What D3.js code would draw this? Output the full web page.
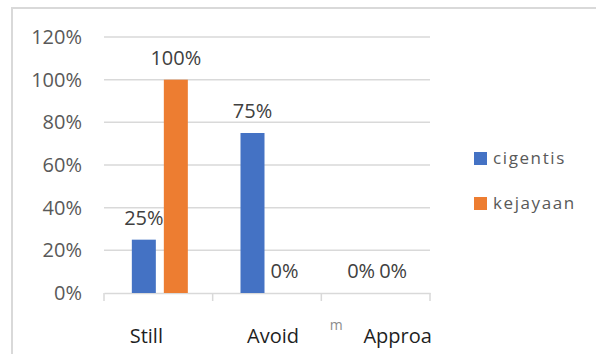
<!DOCTYPE html>
<html>
<head>
<meta charset="utf-8">
<script src="https://cdn.jsdelivr.net/npm/d3@7"></script>
<style>
  html, body { margin: 0; padding: 0; background: #fff; }
  svg { display: block; font-family: "Open Sans", "Noto Sans", sans-serif; }
</style>
</head>
<body>
<svg id="chart" width="596" height="354"></svg>
<script>
// Chart data
const categories = ["Still", "Avoid", "Approa"];
const seriesNames = ["cigentis", "kejayaan"];
const cigentis = [0.25, 0.75, 0];
const kejayaan = [1.00, 0, 0];
const yTicks = [0, 0.2, 0.4, 0.6, 0.8, 1.0, 1.2];
const categoryLabelShift = [-12, 6, 22];
const colors = ["#4472c4", "#ed7d31"];

const svg = d3.select("#chart");
const plot = { left: 104, right: 430, top: 37, bottom: 293 };

// outer frame (top and left edges)
svg.append("path")
  .attr("d", "M12,354 L12,8 L596,8")
  .attr("fill", "none")
  .attr("stroke", "#d9d9d9")
  .attr("stroke-width", 2);

const y = d3.scaleLinear().domain([0, 1.2]).range([plot.bottom, plot.top]);
const x = d3.scaleBand().domain(categories).range([plot.left, plot.right]);
const bw = x.bandwidth();
const x1 = d3.scaleBand().domain(seriesNames)
  .range([bw / 2 - 26.5, bw / 2 + 29.5]).paddingInner(0.25);

// gridlines
svg.append("g").selectAll("line")
  .data(yTicks.filter(t => t > 0))
  .join("line")
  .attr("x1", plot.left).attr("x2", plot.right)
  .attr("y1", d => y(d)).attr("y2", d => y(d))
  .attr("stroke", "#d9d9d9").attr("stroke-width", 1.5);

// y axis labels
const yAxis = svg.append("g")
  .attr("transform", `translate(${plot.left - 22},0)`)
  .call(d3.axisLeft(y).tickValues(yTicks).tickFormat(d3.format(".0%")).tickSize(0).tickPadding(0));
yAxis.select(".domain").remove();
yAxis.selectAll("text")
  .attr("fill", "#595959")
  .style("font-size", "20px")
  .style("font-family", "'Open Sans', sans-serif");

// x axis baseline with category ticks
const xAxis = svg.append("g")
  .attr("transform", `translate(0,${plot.bottom})`)
  .call(d3.axisBottom(x).tickSize(0).tickFormat(""));
xAxis.select(".domain").attr("stroke", "#d9d9d9").attr("stroke-width", 1.5);
svg.append("g").selectAll("line")
  .data(categories.map(c => x(c)).concat([plot.right]))
  .join("line")
  .attr("x1", d => d).attr("x2", d => d)
  .attr("y1", plot.bottom).attr("y2", plot.bottom + 8)
  .attr("stroke", "#d9d9d9").attr("stroke-width", 1.5);

// category labels
svg.append("g").selectAll("text")
  .data(categories)
  .join("text")
  .attr("x", (d, i) => x(d) + bw / 2 + categoryLabelShift[i])
  .attr("y", 343)
  .attr("text-anchor", "middle")
  .attr("fill", "#1f1f1f")
  .style("font-size", "20px")
  .text(d => d);
svg.append("text")
  .attr("x", x("Approa") + 15).attr("y", 330)
  .attr("text-anchor", "middle")
  .attr("fill", "#8c8c8c")
  .style("font-size", "14px")
  .text("m");

// bars and value labels
const rows = categories.map((c, i) => ({ cat: c, values: [cigentis[i], kejayaan[i]] }));
const groups = svg.append("g").selectAll("g")
  .data(rows)
  .join("g")
  .attr("transform", d => `translate(${x(d.cat)},0)`);

groups.selectAll("rect")
  .data(d => d.values.map((v, j) => ({ s: seriesNames[j], v, j })))
  .join("rect")
  .attr("x", d => x1(d.s))
  .attr("width", x1.bandwidth())
  .attr("y", d => y(d.v))
  .attr("height", d => y(0) - y(d.v))
  .attr("fill", d => colors[d.j]);

groups.selectAll("text")
  .data(d => d.values.map((v, j) => ({ s: seriesNames[j], v, j })))
  .join("text")
  .attr("x", d => x1(d.s) + x1.bandwidth() / 2)
  .attr("y", d => y(d.v) - 15)
  .attr("text-anchor", "middle")
  .attr("fill", "#404040")
  .style("font-size", "20px")
  .text(d => d3.format(".0%")(d.v));

// legend
const legend = svg.append("g").selectAll("g")
  .data(seriesNames)
  .join("g")
  .attr("transform", (d, i) => `translate(474,${152 + i * 45})`);
legend.append("rect")
  .attr("width", 13).attr("height", 13)
  .attr("fill", (d, i) => colors[i]);
legend.append("text")
  .attr("x", 19).attr("y", 12)
  .attr("fill", "#595959")
  .style("font-size", "17px")
  .style("letter-spacing", "1.6px")
  .text(d => d);
</script>
</body>
</html>
